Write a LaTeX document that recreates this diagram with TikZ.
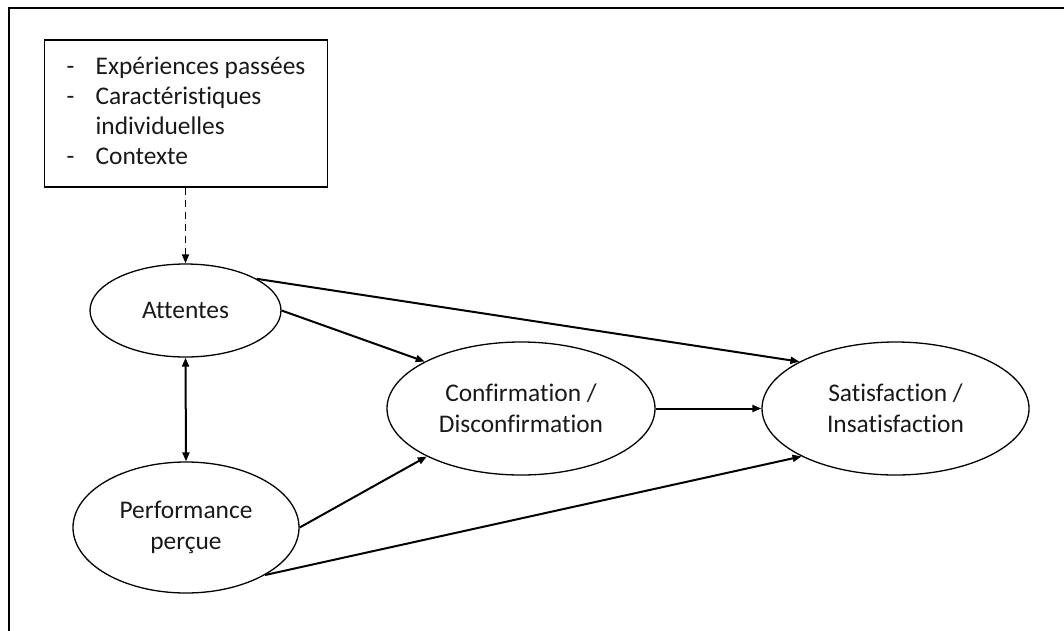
\documentclass[tikz,border=0pt]{standalone}
\usepackage{fontspec}
\setmainfont{Carlito}[Ligatures=NoCommon]
\usetikzlibrary{shapes.geometric,arrows.meta}
\begin{document}
\begin{tikzpicture}[x=1pt,y=-1pt,
  every node/.style={font=\fontsize{25.4}{31.5}\selectfont, text=black!90},
  oval/.style={draw, ellipse, line width=1.3pt, inner sep=0pt, align=center},
  conn/.style={line width=2pt, -{Triangle[length=9pt,width=7pt]}},
  tip/.style={-{Triangle[length=9pt,width=7pt]}}
]
\useasboundingbox (0,0) rectangle (1064,630);
\draw[line width=2pt] (9,632) -- (9,8) -- (1066,8);

\node[draw, line width=1.3pt, anchor=west, inner xsep=22pt, inner ysep=0pt,
      minimum height=147pt, font=\fontsize{25.4}{29.8}\selectfont] (box) at (44,113.5)
  {\begin{tabular}{@{}p{29pt}@{}p{210pt}@{}}
   - & Expériences passées\\
   - & Caractéristiques\\
     & individuelles\\
   - & Contexte
   \end{tabular}};

\node[oval, minimum width=191pt, minimum height=93pt] (att) at (185.5,310.5) {Attentes};
\node[oval, minimum width=226pt, minimum height=131pt] (perf) at (186,527.5) {Performance\\perçue};
\node[oval, minimum width=268pt, minimum height=133pt] (conf) at (521,408.5) {Confirmation /\\Disconfirmation};
\node[oval, minimum width=267pt, minimum height=133pt] (sat) at (895.5,408.5) {Satisfaction /\\Insatisfaction};

\draw[line width=1.8pt, dashed, dash pattern=on 7pt off 5pt, tip] (box.south -| att.north) -- (att.north);
\draw[line width=2pt, {Triangle[length=9pt,width=7pt]}-{Triangle[length=9pt,width=7pt]}] (att.south) -- (perf.north);
\draw[conn] (att.24) -- (sat.154);
\draw[conn] (att.east) -- (conf.154);
\draw[conn] (conf.east) -- (sat.west);
\draw[conn] (perf.east) -- (conf.207);
\draw[conn] (perf.-31) -- (sat.207);
\end{tikzpicture}
\end{document}
